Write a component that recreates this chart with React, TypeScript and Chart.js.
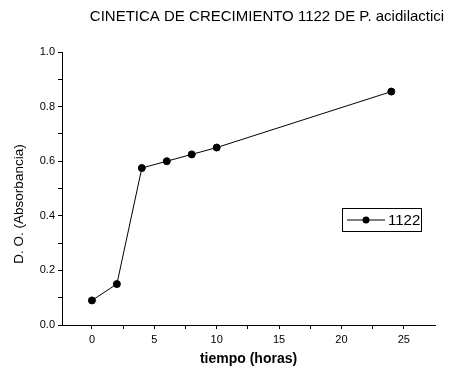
import React, { useEffect, useRef } from "react";
import { Chart, registerables } from "chart.js";

Chart.register(...registerables);

// Growth kinetics of strain 1122 (P. acidilactici): optical density vs. time
const hours = [0, 2, 4, 6, 8, 10, 24];
const absorbance = [0.09, 0.15, 0.575, 0.6, 0.625, 0.65, 0.855];

const seriesLabel = "1122";
const chartTitle = "CINETICA DE CRECIMIENTO 1122 DE P. acidilactici";
const xTitle = "tiempo (horas)";
const yTitle = "D. O. (Absorbancia)";

// Tick positions (major ones get labels, the rest are minor marks)
const xTicks = [0, 2.5, 5, 7.5, 10, 12.5, 15, 17.5, 20, 22.5, 25];
const xLabelled = [0, 5, 10, 15, 20, 25];
const yTicks = [0, 0.1, 0.2, 0.3, 0.4, 0.5, 0.6, 0.7, 0.8, 0.9, 1.0];
const yLabelled = [0, 0.2, 0.4, 0.6, 0.8, 1.0];

const FONT = "'Liberation Sans', Arial, sans-serif";

const decorations = {
  id: "decorations",
  afterDraw(chart: any) {
    const { ctx, chartArea } = chart;
    ctx.save();
    ctx.fillStyle = "#000";
    ctx.strokeStyle = "#000";

    // chart title
    ctx.font = `15px ${FONT}`;
    ctx.textAlign = "center";
    ctx.textBaseline = "middle";
    ctx.fillText(chartTitle, 267, 17);

    // y axis title
    ctx.save();
    ctx.translate(19, 204);
    ctx.rotate(-Math.PI / 2);
    ctx.font = `13.5px ${FONT}`;
    ctx.fillText(yTitle, 0, 0);
    ctx.restore();

    // legend box
    const lx = chartArea.right - 93;
    const ly = chartArea.top + 156;
    ctx.lineWidth = 1;
    ctx.strokeRect(lx + 0.5, ly + 0.5, 79, 23);
    const my = ly + 12;
    ctx.beginPath();
    ctx.moveTo(lx + 5, my);
    ctx.lineTo(lx + 43, my);
    ctx.stroke();
    ctx.beginPath();
    ctx.arc(lx + 24, my, 3.5, 0, Math.PI * 2);
    ctx.fill();
    ctx.font = `15px ${FONT}`;
    ctx.textAlign = "left";
    ctx.fillText(seriesLabel, lx + 46, my + 1);
    ctx.restore();
  },
};

export default function App() {
  const canvasRef = useRef<HTMLCanvasElement | null>(null);

  useEffect(() => {
    const canvas = canvasRef.current;
    if (!canvas) return;
    const chart = new Chart(canvas, {
      type: "line",
      data: {
        datasets: [
          {
            label: seriesLabel,
            data: hours.map((h, i) => ({ x: h, y: absorbance[i] })),
            borderColor: "#000",
            backgroundColor: "#000",
            borderWidth: 1,
            pointRadius: 3.5,
            pointBackgroundColor: "#000",
            pointBorderColor: "#000",
            tension: 0,
          },
        ],
      },
      options: {
        responsive: false,
        animation: false,
        layout: { padding: { top: 52, right: 15, left: 0, bottom: 0 } },
        plugins: {
          legend: { display: false },
          title: { display: false },
          tooltip: { enabled: false },
        },
        scales: {
          x: {
            type: "linear",
            position: "bottom",
            min: -2.4,
            max: 27.5,
            afterBuildTicks: (axis: any) => {
              axis.ticks = xTicks.map((v) => ({ value: v }));
            },
            afterFit: (axis: any) => {
              axis.height = 49;
            },
            grid: {
              drawOnChartArea: false,
              drawTicks: true,
              tickLength: 4,
              tickColor: "#000",
            },
            border: { display: true, color: "#000", width: 1 },
            ticks: {
              color: "#000",
              padding: 4,
              maxRotation: 0,
              autoSkip: false,
              font: { family: FONT, size: 11 },
              callback: (v: any) => (xLabelled.includes(Number(v)) ? String(v) : ""),
            },
            title: {
              display: true,
              text: xTitle,
              color: "#000",
              font: { family: FONT, size: 14, weight: "bold" },
              padding: { top: 0, bottom: 6 },
            },
          },
          y: {
            type: "linear",
            min: 0,
            max: 1.0,
            afterBuildTicks: (axis: any) => {
              axis.ticks = yTicks.map((v) => ({ value: v }));
            },
            afterFit: (axis: any) => {
              axis.width = 62;
            },
            grid: {
              drawOnChartArea: false,
              drawTicks: true,
              tickLength: 4,
              tickColor: "#000",
            },
            border: { display: true, color: "#000", width: 1 },
            ticks: {
              color: "#000",
              padding: 3,
              autoSkip: false,
              font: { family: FONT, size: 11 },
              callback: (v: any) =>
                yLabelled.some((t) => Math.abs(t - Number(v)) < 1e-9) ? Number(v).toFixed(1) : "",
            },
          },
        },
      },
      plugins: [decorations],
    });
    return () => chart.destroy();
  }, []);

  return (
    <div style={{ position: "fixed", left: 0, top: 0, width: 450, height: 374, background: "#fff" }}>
      <canvas ref={canvasRef} width={450} height={374} />
    </div>
  );
}
